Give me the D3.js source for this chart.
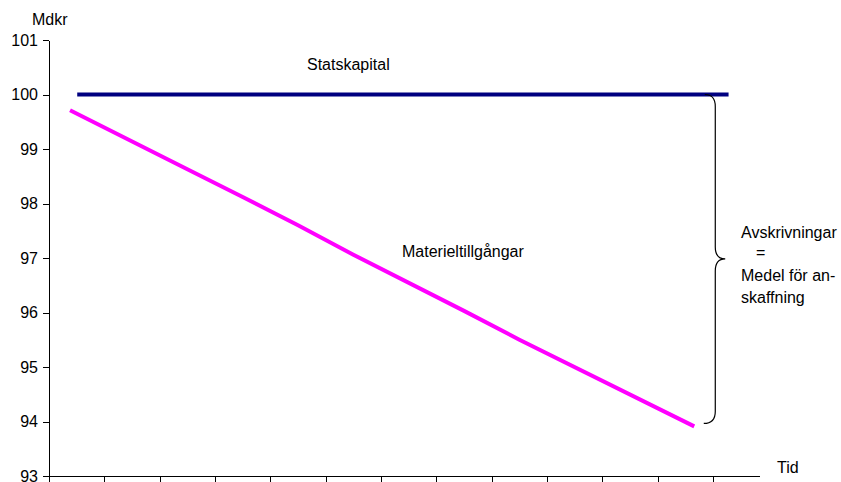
<!DOCTYPE html>
<html>
<head>
<meta charset="utf-8">
<script src="https://cdn.jsdelivr.net/npm/d3@7/dist/d3.min.js"></script>
<style>
  html, body { margin: 0; padding: 0; background: #fff; }
  svg { display: block; }
  text { font-family: "Liberation Sans", Arial, sans-serif; fill: #000; }
</style>
</head>
<body>
<svg id="chart" width="841" height="482"></svg>
<script>
// Time positions (in period units) and values in Mdkr
const statsTime = [0.51, 12.28];
const statsValues = [100, 100];

const materielTime = [0.38, 2.5, 3.5, 4.5, 5.5, 7.5, 8.5, 11.66];
const materielValues = [99.71, 98.63, 98.12, 97.6, 97.06, 96.03, 95.5, 93.91];

const yTicks = [93, 94, 95, 96, 97, 98, 99, 100, 101];
const xTicks = [0, 1, 2, 3, 4, 5, 6, 7, 8, 9, 10, 11, 12];

const svg = d3.select("#chart");

const x = d3.scaleLinear().domain([0, 12.83]).range([49, 759]);
const y = d3.scaleLinear().domain([93, 101]).range([476, 40]);

// Axes
const xAxis = d3.axisBottom(x).tickValues(xTicks).tickFormat("").tickSize(7).tickSizeOuter(0);
const yAxis = d3.axisLeft(y).tickValues(yTicks).tickFormat(d3.format("d")).tickSize(6).tickSizeOuter(0).tickPadding(5);

const gx = svg.append("g").attr("transform", `translate(0,${y(93)})`).call(xAxis);
const gy = svg.append("g").attr("transform", `translate(${x(0)},0)`).call(yAxis);
[gx, gy].forEach(g => {
  g.selectAll("path, line").attr("stroke", "#000").attr("stroke-width", 1).attr("shape-rendering", "crispEdges");
});
gy.selectAll("text").style("font-size", "16px").attr("font-family", "Liberation Sans, Arial, sans-serif");

// Series lines
const line = d3.line().x(d => x(d[0])).y(d => y(d[1]));

svg.append("path")
  .datum(statsTime.map((t, i) => [t, statsValues[i]]))
  .attr("d", line)
  .attr("fill", "none")
  .attr("stroke", "#000080")
  .attr("stroke-width", 4);

svg.append("path")
  .datum(materielTime.map((t, i) => [t, materielValues[i]]))
  .attr("d", line)
  .attr("fill", "none")
  .attr("stroke", "#FF00FF")
  .attr("stroke-width", 4);

// Curly brace spanning the gap between the two lines at the end
const yTop = y(statsValues[statsValues.length - 1]);
const yBot = y(materielValues[materielValues.length - 1]) - 3;
const yMid = (yTop + yBot) / 2;
const bx0 = x(11.85), bSpine = x(12.04), bTip = x(12.22);
const r = 12;
const brace = d3.path();
brace.moveTo(bx0, yTop);
brace.quadraticCurveTo(bSpine, yTop, bSpine, yTop + r);
brace.lineTo(bSpine, yMid - r);
brace.quadraticCurveTo(bSpine, yMid, bTip, yMid);
brace.quadraticCurveTo(bSpine, yMid, bSpine, yMid + r);
brace.lineTo(bSpine, yBot - r);
brace.quadraticCurveTo(bSpine, yBot, bx0 - 1, yBot);
svg.append("path")
  .attr("d", brace.toString())
  .attr("fill", "none")
  .attr("stroke", "#000")
  .attr("stroke-width", 1.2);

// Labels
const fs = "16px";
svg.append("text").attr("x", 32).attr("y", 25).style("font-size", fs).text("Mdkr");
svg.append("text").attr("x", 777).attr("y", 473).style("font-size", fs).text("Tid");
svg.append("text").attr("x", 307).attr("y", 70).style("font-size", fs).text("Statskapital");
svg.append("text").attr("x", 402).attr("y", 257).style("font-size", fs).text("Materieltillgångar");

const note = svg.append("g");
note.append("text").attr("x", 741).attr("y", 238).style("font-size", fs).text("Avskrivningar");
note.append("text").attr("x", 756).attr("y", 258).style("font-size", fs).text("=");
note.append("text").attr("x", 741).attr("y", 281).style("font-size", fs).text("Medel för an-");
note.append("text").attr("x", 741).attr("y", 303).style("font-size", fs).text("skaffning");
</script>
</body>
</html>
